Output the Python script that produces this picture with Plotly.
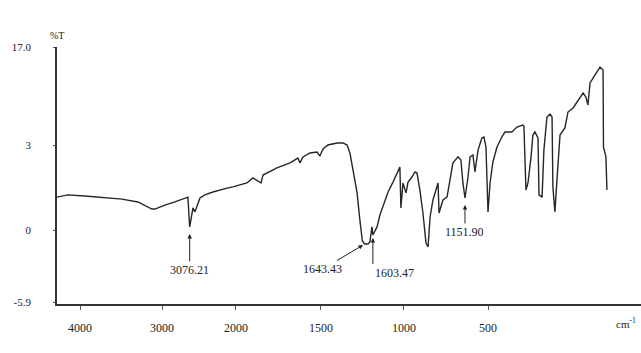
import numpy as np
import plotly.graph_objects as go

# ---- data ----
wavenumber = [4474, 4358, 4179, 3968, 3789, 3621, 3474, 3442, 3337, 3232,
              3126, 3095, 3076.21, 3042, 3021, 2968, 2916, 2832, 2684, 2621,
              2474, 2411, 2326, 2305, 2158, 2021, 1971, 1961, 1946, 1912,
              1877, 1863, 1848, 1824, 1779, 1750, 1730, 1716, 1701, 1681,
              1667, 1655, 1643.43, 1628, 1618, 1608, 1603.47, 1583, 1569, 1544,
              1529, 1505, 1480, 1471, 1466, 1456, 1441, 1431, 1412, 1397,
              1387, 1373, 1358, 1343, 1333, 1323, 1309, 1289, 1284, 1279,
              1260, 1240, 1225, 1211, 1186, 1172, 1162, 1151.90, 1137, 1127,
              1113, 1103, 1088, 1069, 1059, 1049, 1039, 1029, 1015, 995,
              971, 956, 922, 897, 868, 863, 853, 843, 828, 819,
              809, 794, 789, 774, 765, 750, 735, 725, 721, 711,
              701, 686, 662, 647, 622, 598, 573, 559, 549, 539,
              515, 490, 475, 473, 461, 456]
transmittance = [1.16, 1.24, 1.20, 1.13, 1.09, 0.99, 0.74, 0.74, 0.88, 0.99,
                 1.13, 1.16, 0.11, 0.78, 0.64, 1.13, 1.24, 1.34, 1.48, 1.52,
                 1.66, 1.84, 1.66, 1.94, 2.19, 2.37, 2.54, 2.37, 2.58, 2.72,
                 2.75, 2.61, 2.86, 3.00, 3.29, 3.29, 3.00, 2.72, 2.12, 1.31,
                 0.35, -0.90, -1.15, -1.15, -0.98, 0.11, -0.41, 0.11, 0.53, 1.06,
                 1.34, 1.69, 2.05, 2.22, 0.78, 1.66, 1.31, 1.69, 1.87, 2.05,
                 2.01, 1.41, 0.60, -1.07, -1.39, 0.46, 1.06, 1.59, 1.66, 0.60,
                 1.06, 1.16, 1.77, 2.37, 2.58, 2.47, 1.66, 1.13, 1.87, 2.58,
                 2.65, 2.05, 2.82, 4.00, 4.14, 2.93, 0.64, 1.66, 2.40, 2.93,
                 4.14, 4.86, 4.86, 5.57, 5.86, 5.71, 1.41, 1.66, 2.58, 4.43,
                 4.86, 4.00, 1.24, 1.16, 2.82, 7.00, 7.43, 7.00, 1.52, 0.64,
                 1.77, 4.43, 5.43, 7.71, 8.29, 9.43, 10.43, 9.86, 8.71, 11.86,
                 13.00, 14.14, 13.71, 2.93, 2.58, 1.41]

x_tick_labels = ["4000", "3000", "2000", "1500", "1000", "500"]
y_tick_values = [17.0, 3.0, 0.0, -5.9]
y_tick_labels = ["17.0", "3", "0", "-5.9"]
peak_wavenumbers = [3076.21, 1643.43, 1603.47, 1151.90]
peak_labels = ["3076.21", "1643.43", "1603.47", "1151.90"]


# ---- axis scales of the printed chart (piecewise, as on the instrument plot) ----
def x_scale(w):
    w = np.asarray(w, dtype=float)
    return np.where(w > 2000, 2000 + (w - 2000) * 0.466, w)


T_ANCHOR = [-5.9, 0.0, 3.0, 17.0]
V_ANCHOR = [0.0, 72.0, 157.0, 255.0]


def y_scale(t):
    return np.interp(np.asarray(t, dtype=float), T_ANCHOR, V_ANCHOR)


wn = np.array(wavenumber)
tr = np.array(transmittance)

fig = go.Figure()
fig.add_trace(go.Scatter(
    x=x_scale(wn), y=y_scale(tr), mode="lines",
    line=dict(color="#262626", width=1.4), hoverinfo="skip", showlegend=False))

FONT = "Liberation Serif, Times New Roman, serif"


def dip(w):
    i = int(np.argmin(np.abs(wn - w)))
    return float(y_scale(tr[i]))


ARROW = dict(arrowhead=2, arrowsize=0.9, arrowwidth=1, arrowcolor="#222")
ann = []
# 3076.21
ann.append(dict(x=float(x_scale(peak_wavenumbers[0])), y=dip(peak_wavenumbers[0]),
                text=peak_labels[0], showarrow=True, ax=0, ay=43, standoff=7, **ARROW))
# 1643.43
ann.append(dict(x=float(x_scale(peak_wavenumbers[1])), y=dip(peak_wavenumbers[1]),
                text=peak_labels[1], showarrow=True, ax=-42, ay=25, standoff=2, **ARROW))
# 1603.47 (vertical arrow at the left edge of the label)
ann.append(dict(x=float(x_scale(peak_wavenumbers[2])), y=dip(peak_wavenumbers[2]),
                text=peak_labels[2], showarrow=True, ax=0, ay=29, standoff=3,
                xanchor="left", yanchor="top", **ARROW))
# 1151.90
ann.append(dict(x=float(x_scale(peak_wavenumbers[3])), y=dip(peak_wavenumbers[3]),
                text=peak_labels[3], showarrow=True, ax=0, ay=34, standoff=7, **ARROW))
for a in ann:
    a["xref"] = "x"
    a["yref"] = "y"
    a["font"] = dict(family=FONT, size=12, color="#222")

ann.append(dict(xref="paper", yref="paper", x=0, y=1, yshift=12, text="%T",
                showarrow=False, xanchor="center", yanchor="middle",
                font=dict(family=FONT, size=10, color="#222")))
ann.append(dict(xref="paper", yref="paper", x=0.975, y=0, yshift=-19,
                text="cm<sup>-1</sup>", showarrow=False, xanchor="center", yanchor="middle",
                font=dict(family=FONT, size=11, color="#222")))

fig.update_layout(
    width=641, height=353,
    margin=dict(l=57, r=0, t=47, b=49),
    paper_bgcolor="white", plot_bgcolor="white",
    font=dict(family=FONT, size=12, color="#222"),
    annotations=ann,
    xaxis=dict(range=[3152, 289], showgrid=False, zeroline=False,
               showline=True, linecolor="#333", linewidth=1.5,
               ticks="outside", ticklen=4, tickcolor="#555",
               tickvals=[3039, 2637, 2275, 1858, 1451, 1039],
               ticktext=x_tick_labels, ticklabelstandoff=8,
               tickfont=dict(family=FONT, size=12, color="#222")),
    yaxis=dict(range=[-2, 255], showgrid=False, zeroline=False,
               showline=True, linecolor="#333", linewidth=1.8,
               ticks="outside", ticklen=2, tickcolor="#555",
               tickvals=list(y_scale(y_tick_values)), ticktext=y_tick_labels,
               ticklabelstandoff=20,
               tickfont=dict(family=FONT, size=11, color="#222")),
)

fig.write_html("out.html")
